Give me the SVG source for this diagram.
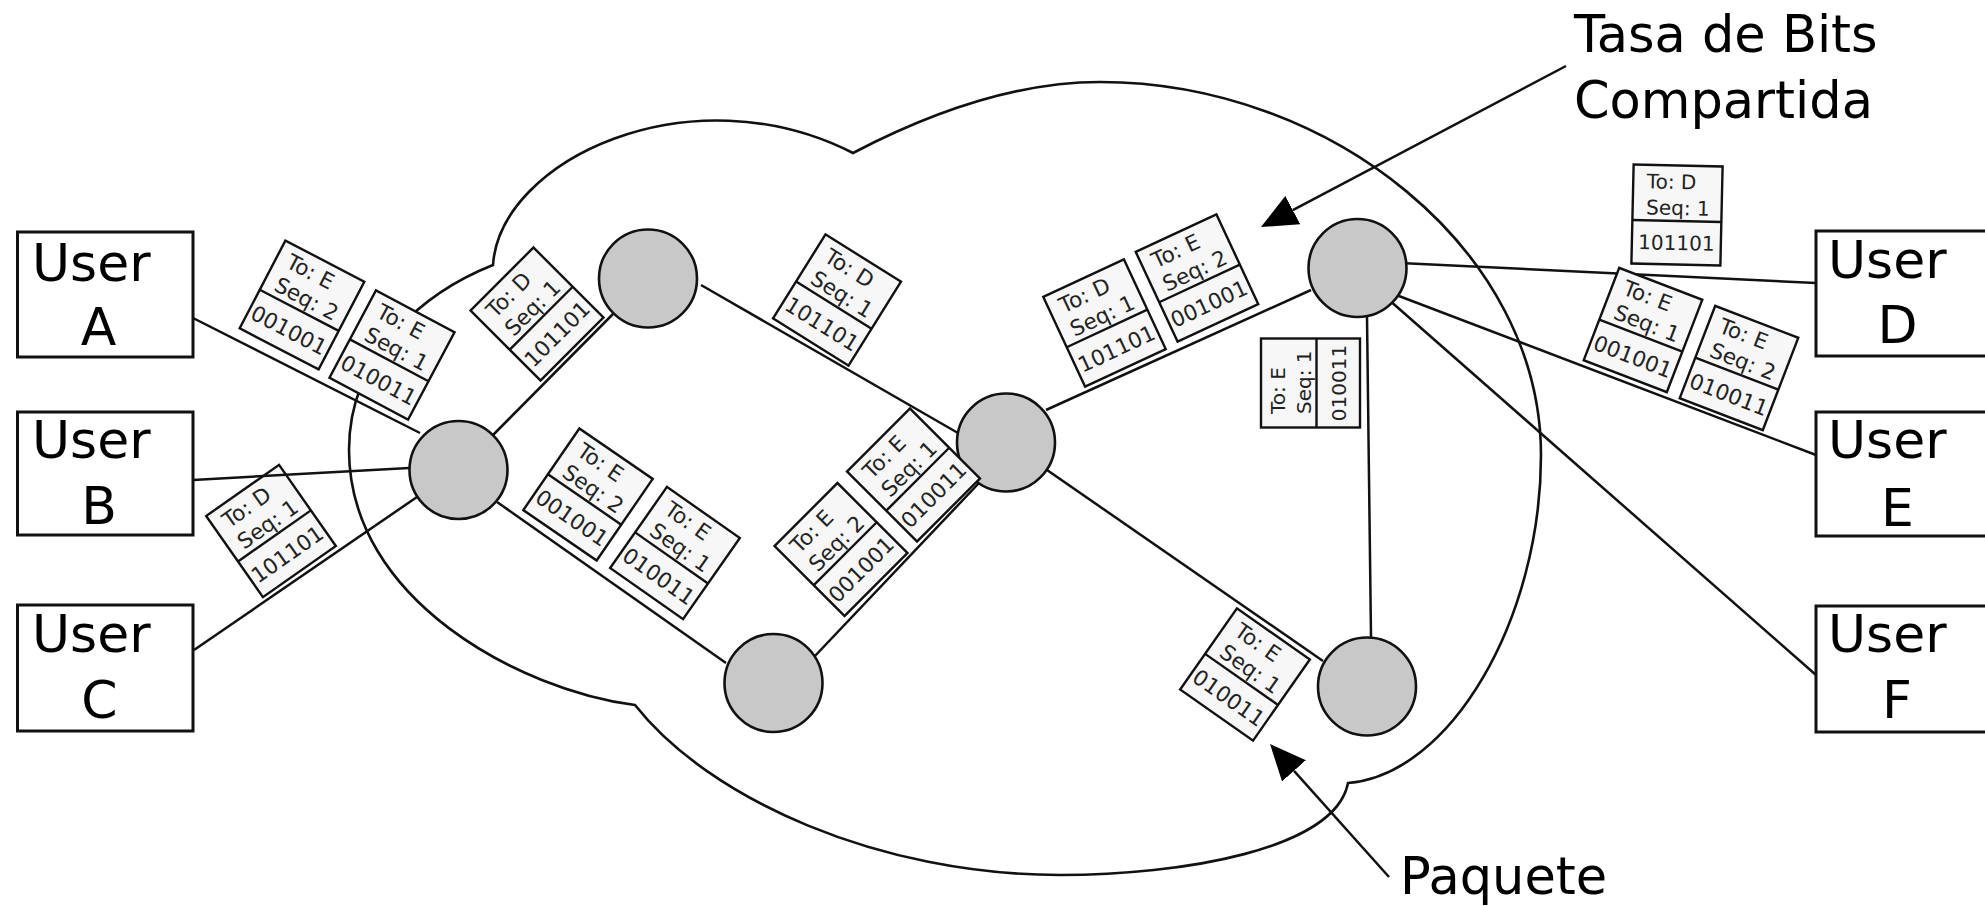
<svg xmlns="http://www.w3.org/2000/svg" xmlns:xlink="http://www.w3.org/1999/xlink" width="1985" height="906" viewBox="0 0 1985 906">
  <style>
    .cloud { fill: none; stroke: #111; stroke-width: 2.6; }
    .link { stroke: #111; stroke-width: 2.5; fill: none; }
    .router { fill: #c8c8c8; stroke: #111; stroke-width: 2.6; }
    .user rect { fill: #fff; stroke: #111; stroke-width: 3; }
    .big { font-family: "DejaVu Sans", "Liberation Sans", sans-serif; font-size: 52px; fill: #000; }
    .mid { text-anchor: middle; }
    .pf { fill: #f7f7f7; stroke: #111; stroke-width: 2.4; }
    .pl { stroke: #111; stroke-width: 2.4; }
    .ph { font-family: "DejaVu Sans", "Liberation Sans", sans-serif; font-size: 21.5px; fill: #222; }
    .pb { font-family: "DejaVu Sans", "Liberation Sans", sans-serif; font-size: 21.5px; fill: #222; text-anchor: middle; }
    .small .ph, .small .pb { font-size: 20px; }
    .note { font-family: "DejaVu Sans", "Liberation Sans", sans-serif; font-size: 51px; fill: #000; }
  </style>
  <defs>
    <!-- packet outline: header (address + sequence) above, payload below -->
    <g id="pkt-frame">
      <rect class="pf" x="-44.5" y="-49.5" width="89" height="99"/>
      <line class="pl" x1="-44.5" y1="6" x2="44.5" y2="6"/>
    </g>
    <marker id="head" viewBox="0 0 36 32" refX="0" refY="16" markerWidth="36" markerHeight="32" markerUnits="userSpaceOnUse" orient="auto">
      <path d="M0,0 L36,16 L0,32 z" fill="#000"/>
    </marker>
  </defs>

  <rect x="0" y="0" width="1985" height="906" fill="#fff"/>

  <!-- network cloud -->
  <path id="cloud" class="cloud" d="M 493 265
    C 500 160, 690 70, 853 153
    C 920 118, 1010 82, 1100 82
    C 1330 82, 1541 250, 1541 455
    C 1541 620, 1450 775, 1348 783
    C 1335 850, 1180 875, 1060 875
    C 880 875, 710 800, 635 705
    C 520 690, 349 600, 349 450
    C 349 350, 430 290, 493 265 Z"/>

  <!-- packet lying under the User B link -->
  <g id="pkt-3" transform="translate(271 531) rotate(-35)">
    <use xlink:href="#pkt-frame"/>
    <text class="ph" x="-33" y="-26">To: D</text>
    <text class="ph" x="-33" y="0">Seq: 1</text>
    <text class="pb" x="0" y="36">101101</text>
  </g>

  <!-- links -->
  <g id="connectors">
    <line class="link" x1="193" y1="318" x2="420" y2="433"/>
    <line class="link" x1="193" y1="480" x2="409" y2="468"/>
    <line class="link" x1="194" y1="650" x2="417" y2="497"/>
    <line class="link" x1="493" y1="435" x2="614" y2="313"/>
    <line class="link" x1="497" y1="502" x2="726" y2="663"/>
    <line class="link" x1="701" y1="285" x2="958" y2="433"/>
    <line class="link" x1="814" y1="657" x2="979" y2="483"/>
    <line class="link" x1="1046" y1="410" x2="1311" y2="290"/>
    <line class="link" x1="1047" y1="470" x2="1323" y2="661"/>
    <line class="link" x1="1367" y1="317" x2="1371" y2="637"/>
    <line class="link" x1="1400" y1="263" x2="1816" y2="283"/>
    <line class="link" x1="1370" y1="285" x2="1816" y2="455"/>
    <line class="link" x1="1380" y1="292" x2="1816" y2="675"/>
    <!-- callout arrows -->
    <line class="link" x1="1566" y1="66" x2="1292.8" y2="210.2" marker-end="url(#head)"/>
    <line class="link" x1="1389" y1="877" x2="1294" y2="770.8" marker-end="url(#head)"/>
  </g>

  <!-- switching nodes -->
  <g id="router-1"><circle class="router" cx="458.5" cy="470" r="49"/></g>
  <g id="router-2"><circle class="router" cx="648" cy="278.5" r="49"/></g>
  <g id="router-3"><circle class="router" cx="1006" cy="442.5" r="49"/></g>
  <g id="router-4"><circle class="router" cx="773.5" cy="683" r="49"/></g>
  <g id="router-5"><circle class="router" cx="1357.5" cy="268" r="49"/></g>
  <g id="router-6"><circle class="router" cx="1367" cy="686.5" r="49"/></g>

  <!-- packets in transit -->
  <g id="packets">
    <g id="pkt-1" transform="translate(302 305) rotate(27.5)">
      <use xlink:href="#pkt-frame"/>
      <text class="ph" x="-33" y="-26">To: E</text>
      <text class="ph" x="-33" y="0">Seq: 2</text>
      <text class="pb" x="0" y="36">001001</text>
    </g>
    <g id="pkt-2" transform="translate(392 355) rotate(28)">
      <use xlink:href="#pkt-frame"/>
      <text class="ph" x="-33" y="-26">To: E</text>
      <text class="ph" x="-33" y="0">Seq: 1</text>
      <text class="pb" x="0" y="36">010011</text>
    </g>
    <g id="pkt-4" transform="translate(537 314) rotate(-45)">
      <use xlink:href="#pkt-frame"/>
      <text class="ph" x="-33" y="-26">To: D</text>
      <text class="ph" x="-33" y="0">Seq: 1</text>
      <text class="pb" x="0" y="36">101101</text>
    </g>
    <g id="pkt-5" transform="translate(837 300) rotate(32)">
      <use xlink:href="#pkt-frame"/>
      <text class="ph" x="-33" y="-26">To: D</text>
      <text class="ph" x="-33" y="0">Seq: 1</text>
      <text class="pb" x="0" y="36">101101</text>
    </g>
    <g id="pkt-6" transform="translate(588 494.5) rotate(34.5)">
      <use xlink:href="#pkt-frame"/>
      <text class="ph" x="-33" y="-26">To: E</text>
      <text class="ph" x="-33" y="0">Seq: 2</text>
      <text class="pb" x="0" y="36">001001</text>
    </g>
    <g id="pkt-7" transform="translate(675 553) rotate(35)">
      <use xlink:href="#pkt-frame"/>
      <text class="ph" x="-33" y="-26">To: E</text>
      <text class="ph" x="-33" y="0">Seq: 1</text>
      <text class="pb" x="0" y="36">010011</text>
    </g>
    <g id="pkt-8" transform="translate(841 549.5) rotate(-45)">
      <use xlink:href="#pkt-frame"/>
      <text class="ph" x="-33" y="-26">To: E</text>
      <text class="ph" x="-33" y="0">Seq: 2</text>
      <text class="pb" x="0" y="36">001001</text>
    </g>
    <g id="pkt-9" transform="translate(913.5 475) rotate(-45)">
      <use xlink:href="#pkt-frame"/>
      <text class="ph" x="-33" y="-26">To: E</text>
      <text class="ph" x="-33" y="0">Seq: 1</text>
      <text class="pb" x="0" y="36">010011</text>
    </g>
    <g id="pkt-10" transform="translate(1104.5 323) rotate(-25)">
      <use xlink:href="#pkt-frame"/>
      <text class="ph" x="-33" y="-26">To: D</text>
      <text class="ph" x="-33" y="0">Seq: 1</text>
      <text class="pb" x="0" y="36">101101</text>
    </g>
    <g id="pkt-11" transform="translate(1197 278) rotate(-25)">
      <use xlink:href="#pkt-frame"/>
      <text class="ph" x="-33" y="-26">To: E</text>
      <text class="ph" x="-33" y="0">Seq: 2</text>
      <text class="pb" x="0" y="36">001001</text>
    </g>
    <g id="pkt-12" class="small" transform="translate(1310.5 383) rotate(-90)">
      <use xlink:href="#pkt-frame"/>
      <text class="ph" x="-31" y="-26">To: E</text>
      <text class="ph" x="-31" y="0">Seq: 1</text>
      <text class="pb" x="0" y="35">010011</text>
    </g>
    <g id="pkt-13" class="small" transform="translate(1677 215) rotate(1.3)">
      <use xlink:href="#pkt-frame"/>
      <text class="ph" x="-31" y="-26">To: D</text>
      <text class="ph" x="-31" y="0">Seq: 1</text>
      <text class="pb" x="0" y="35">101101</text>
    </g>
    <g id="pkt-14" transform="translate(1643 330) rotate(21)">
      <use xlink:href="#pkt-frame"/>
      <text class="ph" x="-33" y="-26">To: E</text>
      <text class="ph" x="-33" y="0">Seq: 1</text>
      <text class="pb" x="0" y="36">001001</text>
    </g>
    <g id="pkt-15" transform="translate(1739 368) rotate(21)">
      <use xlink:href="#pkt-frame"/>
      <text class="ph" x="-33" y="-26">To: E</text>
      <text class="ph" x="-33" y="0">Seq: 2</text>
      <text class="pb" x="0" y="36">010011</text>
    </g>
    <g id="pkt-16" transform="translate(1245 674.5) rotate(35)">
      <use xlink:href="#pkt-frame"/>
      <text class="ph" x="-33" y="-26">To: E</text>
      <text class="ph" x="-33" y="0">Seq: 1</text>
      <text class="pb" x="0" y="36">010011</text>
    </g>
  </g>

  <!-- end users -->
  <g id="user-a" class="user">
    <rect x="17.5" y="232" width="175.5" height="125"/>
    <text class="big" x="32" y="281">User</text>
    <text class="big mid" x="98.5" y="345">A</text>
  </g>
  <g id="user-b" class="user">
    <rect x="17.5" y="412" width="175.5" height="123"/>
    <text class="big" x="32" y="458">User</text>
    <text class="big mid" x="99" y="524">B</text>
  </g>
  <g id="user-c" class="user">
    <rect x="17.5" y="605" width="175.5" height="126"/>
    <text class="big" x="32" y="652">User</text>
    <text class="big mid" x="99.5" y="718">C</text>
  </g>
  <g id="user-d" class="user">
    <rect x="1816" y="231" width="200" height="125"/>
    <text class="big" x="1828" y="278">User</text>
    <text class="big mid" x="1897.5" y="343">D</text>
  </g>
  <g id="user-e" class="user">
    <rect x="1816" y="412" width="200" height="124"/>
    <text class="big" x="1828" y="458">User</text>
    <text class="big mid" x="1897.5" y="526">E</text>
  </g>
  <g id="user-f" class="user">
    <rect x="1816" y="606" width="200" height="126"/>
    <text class="big" x="1828" y="652">User</text>
    <text class="big mid" x="1897" y="718">F</text>
  </g>

  <!-- callout labels -->
  <g id="label-rate">
    <text class="note" x="1574" y="52">Tasa de Bits</text>
    <text class="note" x="1574" y="118">Compartida</text>
  </g>
  <g id="label-packet">
    <text class="note" x="1400" y="894">Paquete</text>
  </g>
</svg>
